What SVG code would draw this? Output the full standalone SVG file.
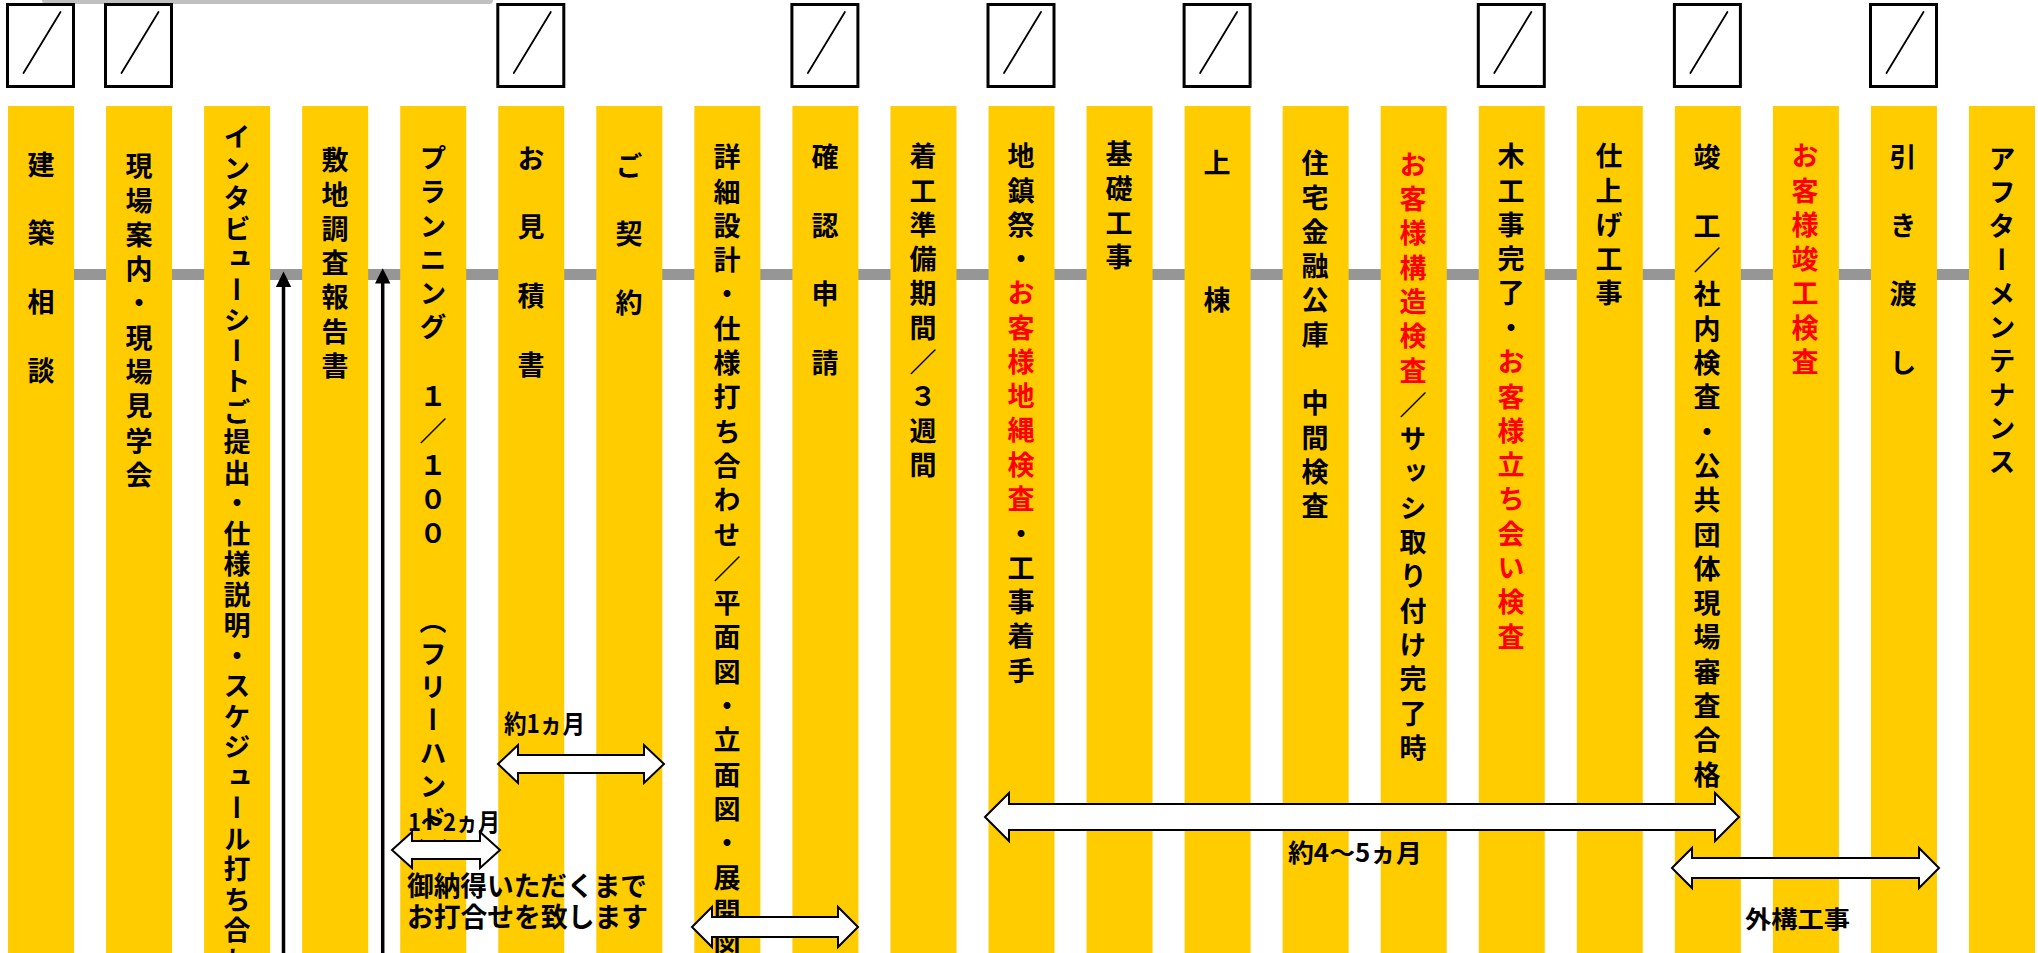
<svg xmlns="http://www.w3.org/2000/svg" width="2038" height="953" viewBox="0 0 2038 953">
<style>
.col{fill:#FFCC00}
.vt{font-family:"Noto Sans CJK JP","Noto Sans CJK SC",sans-serif;font-size:27px;font-weight:bold;writing-mode:vertical-rl;letter-spacing:7.3px;fill:#000}
.red{fill:#FF0000}
.lbl{font-family:"Noto Sans CJK JP","Noto Sans CJK SC",sans-serif;font-weight:bold;dominant-baseline:central;fill:#000}
.dbl{fill:#fff;stroke:#000;stroke-width:2;stroke-linejoin:miter}
.box{fill:#fff;stroke:#000;stroke-width:3}
.sl{stroke:#000;stroke-width:1.8;stroke-linecap:round}
</style>
<rect x="0" y="0" width="2038" height="953" fill="#fff"/>
<rect x="42" y="-6" width="451" height="10" rx="4" fill="#c0c0c0"/>
<rect x="40" y="269" width="1960" height="11" fill="#969696"/>
<g id="date-boxes">
<g id="box-0"><rect class="box" x="7.5" y="4.5" width="66" height="82"/><line class="sl" x1="23.5" y1="73" x2="60.5" y2="12"/></g>
<g id="box-1"><rect class="box" x="105.5" y="4.5" width="66" height="82"/><line class="sl" x1="121.5" y1="73" x2="158.5" y2="12"/></g>
<g id="box-5"><rect class="box" x="497.8" y="4.5" width="66" height="82"/><line class="sl" x1="513.8" y1="73" x2="550.8" y2="12"/></g>
<g id="box-8"><rect class="box" x="791.9" y="4.5" width="66" height="82"/><line class="sl" x1="807.9" y1="73" x2="844.9" y2="12"/></g>
<g id="box-10"><rect class="box" x="988" y="4.5" width="66" height="82"/><line class="sl" x1="1004" y1="73" x2="1041" y2="12"/></g>
<g id="box-12"><rect class="box" x="1184.1" y="4.5" width="66" height="82"/><line class="sl" x1="1200.1" y1="73" x2="1237.1" y2="12"/></g>
<g id="box-15"><rect class="box" x="1478.3" y="4.5" width="66" height="82"/><line class="sl" x1="1494.3" y1="73" x2="1531.3" y2="12"/></g>
<g id="box-17"><rect class="box" x="1674.4" y="4.5" width="66" height="82"/><line class="sl" x1="1690.4" y1="73" x2="1727.4" y2="12"/></g>
<g id="box-19"><rect class="box" x="1870.5" y="4.5" width="66" height="82"/><line class="sl" x1="1886.5" y1="73" x2="1923.5" y2="12"/></g>
</g>
<g id="columns">
<rect class="col" x="8" y="106" width="66" height="847"/>
<rect class="col" x="106.05" y="106" width="66" height="847"/>
<rect class="col" x="204.1" y="106" width="66" height="847"/>
<rect class="col" x="302.15" y="106" width="66" height="847"/>
<rect class="col" x="400.2" y="106" width="66" height="847"/>
<rect class="col" x="498.25" y="106" width="66" height="847"/>
<rect class="col" x="596.3" y="106" width="66" height="847"/>
<rect class="col" x="694.35" y="106" width="66" height="847"/>
<rect class="col" x="792.4" y="106" width="66" height="847"/>
<rect class="col" x="890.45" y="106" width="66" height="847"/>
<rect class="col" x="988.5" y="106" width="66" height="847"/>
<rect class="col" x="1086.55" y="106" width="66" height="847"/>
<rect class="col" x="1184.6" y="106" width="66" height="847"/>
<rect class="col" x="1282.65" y="106" width="66" height="847"/>
<rect class="col" x="1380.7" y="106" width="66" height="847"/>
<rect class="col" x="1478.75" y="106" width="66" height="847"/>
<rect class="col" x="1576.8" y="106" width="66" height="847"/>
<rect class="col" x="1674.85" y="106" width="66" height="847"/>
<rect class="col" x="1772.9" y="106" width="66" height="847"/>
<rect class="col" x="1870.95" y="106" width="66" height="847"/>
<rect class="col" x="1969" y="106" width="66" height="847"/>
</g>
<g id="labels">
<text class="lbl" x="504" y="721.5" font-size="25" textLength="81" lengthAdjust="spacingAndGlyphs">約1ヵ月</text>
<text class="lbl" x="408" y="820" font-size="24" textLength="92" lengthAdjust="spacingAndGlyphs">1～2ヵ月</text>
<text class="lbl" x="407" y="884.5" font-size="27" textLength="240" lengthAdjust="spacingAndGlyphs">御納得いただくまで</text>
<text class="lbl" x="407" y="915" font-size="27" textLength="241" lengthAdjust="spacingAndGlyphs">お打合せを致します</text>
<text class="lbl" x="1288" y="850.5" font-size="25" textLength="134" lengthAdjust="spacingAndGlyphs">約4～5ヵ月</text>
<text class="lbl" x="1745" y="917.5" font-size="24" textLength="105" lengthAdjust="spacingAndGlyphs">外構工事</text>
</g>
<g id="step-texts">
<g id="n0"><text class="vt" x="41" y="151">建　築　相　談</text></g>
<g id="n1"><text class="vt" x="139" y="152.5">現場案内・現場見学会</text></g>
<g id="n2"><text class="vt" x="237" y="123.5" style="letter-spacing:3.5px">インタビューシートご提出・仕様説明・スケジュール打ち合わせ</text></g>
<g id="n3"><text class="vt" x="335" y="146.5">敷地調査報告書</text></g>
<g id="n4"><text class="vt" x="433" y="144.5" style="letter-spacing:6.8px">プランニング</text><text class="vt" x="433" y="382.5">１／１００</text><text class="vt" x="433" y="607.5" style="letter-spacing:6px">（フリーハンド）</text></g>
<g id="n5"><text class="vt" x="531" y="145">お　見　積　書</text></g>
<g id="n6"><text class="vt" x="629" y="152">ご　契　約</text></g>
<g id="n7"><text class="vt" x="727" y="143.5">詳細設計・仕様打ち合わせ／平面図・立面図・展開図</text></g>
<g id="n8"><text class="vt" x="825" y="143.5">確　認　申　請</text></g>
<g id="n9"><text class="vt" x="923" y="142.5">着工準備期間／３週間</text></g>
<g id="n10"><text class="vt" x="1021" y="142.5">地鎮祭・<tspan class="red">お客様地縄検査</tspan>・工事着手</text></g>
<g id="n11"><text class="vt" x="1119" y="140.5">基礎工事</text></g>
<g id="n12"><text class="vt" x="1217" y="149.5">上　　　棟</text></g>
<g id="n13"><text class="vt" x="1315" y="149.5">住宅金融公庫　中間検査</text></g>
<g id="n14"><text class="vt" x="1413" y="151"><tspan class="red">お客様構造検査</tspan>／サッシ取り付け完了時</text></g>
<g id="n15"><text class="vt" x="1511" y="142.5">木工事完了・<tspan class="red">お客様立ち会い検査</tspan></text></g>
<g id="n16"><text class="vt" x="1609" y="142.5">仕上げ工事</text></g>
<g id="n17"><text class="vt" x="1707" y="143.5">竣　工／社内検査・公共団体現場審査合格</text></g>
<g id="n18"><text class="vt red" x="1805" y="142.5">お客様竣工検査</text></g>
<g id="n19"><text class="vt" x="1903" y="143.5">引　き　渡　し</text></g>
<g id="n20"><text class="vt" x="2002" y="145" style="letter-spacing:6.7px">アフターメンテナンス</text></g>
</g>
<g id="connectors">
<line x1="283.5" y1="285" x2="283.5" y2="953" stroke="#000" stroke-width="3.5"/>
<polygon points="283.5,271.5 275.8,287 291.2,287" fill="#000"/>
<line x1="382.7" y1="282" x2="382.7" y2="953" stroke="#000" stroke-width="3.5"/>
<polygon points="382.7,268.3 375,283.5 390.4,283.5" fill="#000"/>
<polygon class="dbl" points="498,764 518,745 518,755 644,755 644,745 664,764 644,783 644,773 518,773 518,783"/>
<polygon class="dbl" points="392,850 412,832 412,841 480,841 480,832 500,850 480,868 480,859 412,859 412,868"/>
<polygon class="dbl" points="692,927 712,907 712,917 838,917 838,907 858,927 838,947 838,937 712,937 712,947"/>
<polygon class="dbl" points="985,817 1009,793 1009,804 1715,804 1715,793 1739,817 1715,841 1715,830 1009,830 1009,841"/>
<polygon class="dbl" points="1672,868 1692,848 1692,858 1919,858 1919,848 1939,868 1919,888 1919,878 1692,878 1692,888"/>
</g>
</svg>
